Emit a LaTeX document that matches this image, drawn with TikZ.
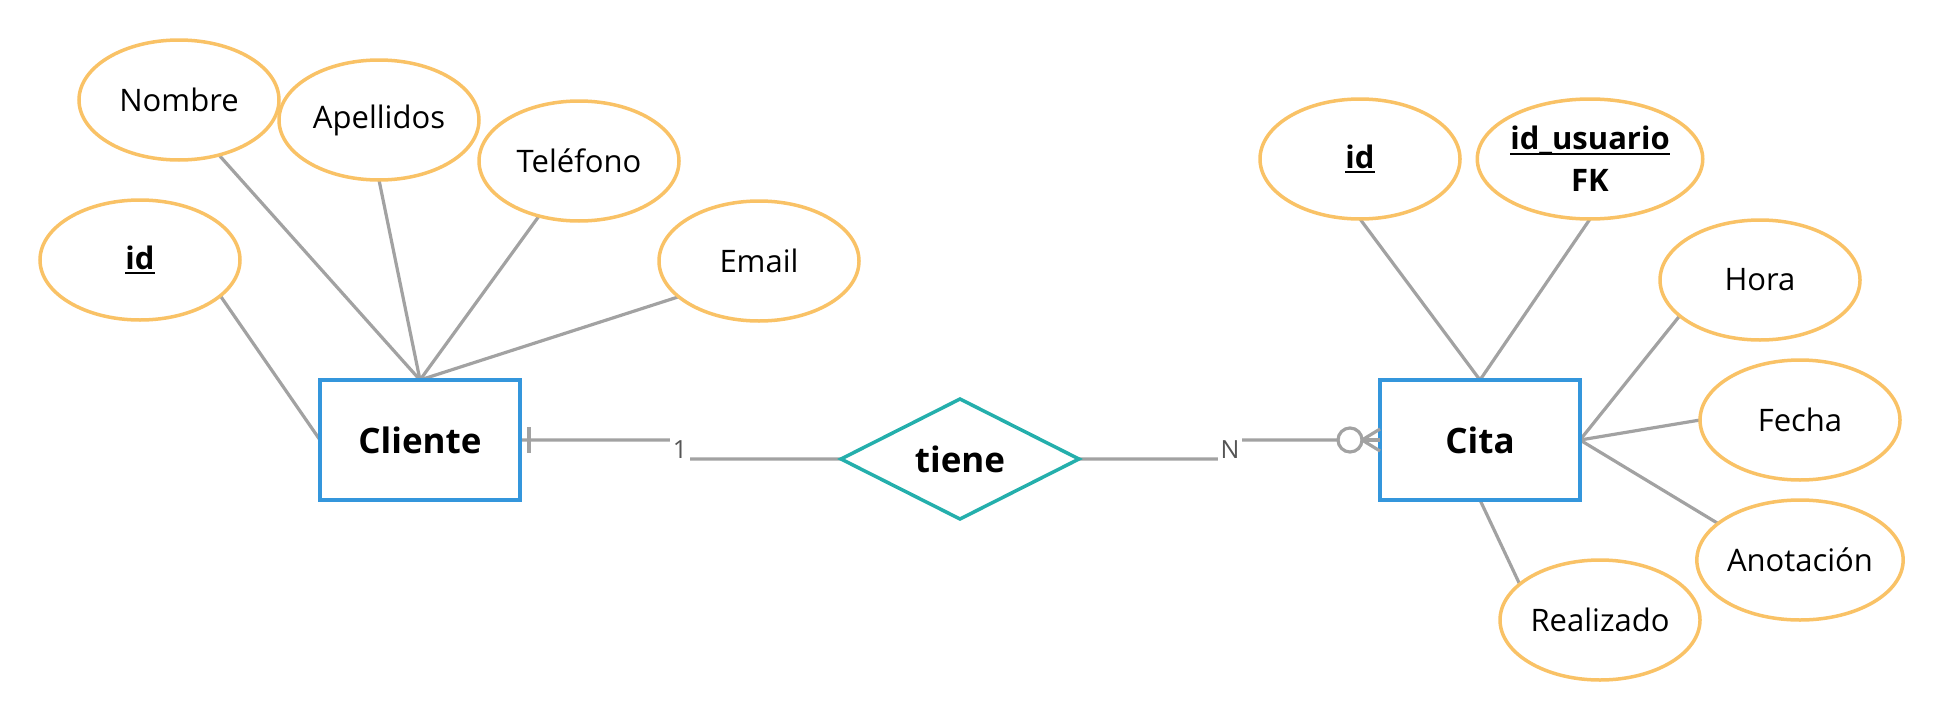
\documentclass[tikz,border=0pt]{standalone}
\usepackage{fontspec}
\setmainfont{Open Sans}
\usetikzlibrary{shapes.geometric}
\definecolor{attrorange}{RGB}{249,194,102}
\definecolor{entblue}{RGB}{52,150,220}
\definecolor{relteal}{RGB}{36,175,172}
\definecolor{linegray}{RGB}{162,162,162}
\definecolor{cardgray}{RGB}{85,85,85}
\pgfdeclarelayer{bg}
\pgfsetlayers{bg,main}
\newcommand\uln[1]{\setbox0\hbox{#1}\rlap{\rule[-5pt]{\wd0}{2pt}}\box0}
\begin{document}
\begin{tikzpicture}[x=1pt,y=-1pt,
  attrib/.style={ellipse, draw=attrorange, line width=3.5pt, fill=white,
    minimum width=200pt, minimum height=120pt, inner sep=0pt, outer sep=0pt,
    font=\fontsize{31}{42}\selectfont, align=center},
  entity/.style={rectangle, draw=entblue, line width=3.5pt, fill=white,
    minimum width=200pt, minimum height=120pt, inner sep=0pt, outer sep=0pt,
    font=\bfseries\fontsize{35}{40}\selectfont},
  relbox/.style={diamond, draw=relteal, line width=3.5pt, fill=white,
    minimum width=238pt, minimum height=120pt, inner sep=0pt, outer sep=0pt,
    font=\bfseries\fontsize{35}{40}\selectfont},
  link/.style={draw=linegray, line width=3.2pt},
  card/.style={fill=white, text=cardgray, font=\fontsize{25}{28}\selectfont,
    inner sep=3pt}
]
\useasboundingbox (0,0) rectangle (1940,720);

% entities and relationship
\node[entity] (cliente) at (420,440) {Cliente};
\node[entity] (cita) at (1480,440) {Cita};
\node[relbox] (tiene) at (960,459) {tiene};

% attributes of Cliente
\node[attrib] (idc) at (140,260) {\uln{\bfseries id}};
\node[attrib] (nombre) at (179,100) {Nombre};
\node[attrib] (apellidos) at (379,120) {Apellidos};
\node[attrib] (telefono) at (579,161) {Teléfono};
\node[attrib] (email) at (759,261) {Email};

% attributes of Cita
\node[attrib] (idt) at (1360,159) {\uln{\bfseries id}};
\node[attrib, minimum width=220pt] (idu) at (1590,159) {\uln{\bfseries id\_usuario}\\\bfseries FK};
\node[attrib] (hora) at (1760,280) {Hora};
\node[attrib] (fecha) at (1800,420) {Fecha};
\node[attrib] (anot) at (1800,560) {Anotación};
\node[attrib] (real) at (1600,620) {Realizado};

\begin{pgfonlayer}{bg}
  \draw[link] (cliente.north) -- (nombre.-54);
  \draw[link] (cliente.north) -- (apellidos.south);
  \draw[link] (cliente.north) -- (telefono.-126);
  \draw[link] (cliente.north) -- (email.-156);
  \draw[link] (cliente.west) -- (idc.-24);
  \draw[link] (cita.north) -- (idt.south);
  \draw[link] (cita.north) -- (idu.south);
  \draw[link] (cita.east) -- (hora.-156);
  \draw[link] (cita.east) -- (fecha.west);
  \draw[link] (cita.east) -- (anot.156);
  \draw[link] (cita.south) -- (real.156);
  % relationship connectors
  \draw[link, rounded corners=6pt] (cliente.east) -- ++(160,0) |- (tiene.west);
  \draw[link, rounded corners=6pt] (tiene.east) -- ++(151,0) |- ([xshift=-30pt]cita.west);
\end{pgfonlayer}

% one-side tick
\draw[link] ([xshift=9pt,yshift=13pt]cliente.east) -- ([xshift=9pt,yshift=-13pt]cliente.east);
% zero-or-many crow's foot
\draw[link, fill=white] ([xshift=-30pt]cita.west) circle (12pt);
\draw[link] ([xshift=-18pt]cita.west) -- ([yshift=11pt]cita.west);
\draw[link] ([xshift=-18pt]cita.west) -- (cita.west);
\draw[link] ([xshift=-18pt]cita.west) -- ([yshift=-11pt]cita.west);

% cardinality labels
\node[card] (c1) at (680,450) {1};
\node[card] (cn) at (1230,450) {N};
\end{tikzpicture}
\end{document}
